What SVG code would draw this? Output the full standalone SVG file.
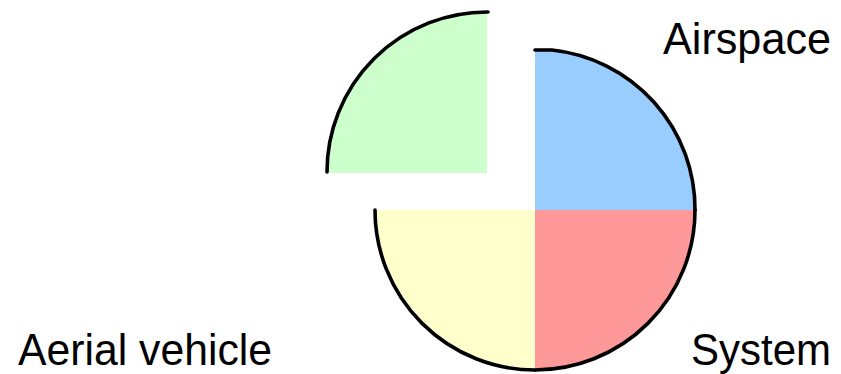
<svg xmlns="http://www.w3.org/2000/svg" width="841" height="374" viewBox="0 0 841 374">
<style>
.arc{fill:none;stroke:#000;stroke-width:3.6;stroke-linecap:round;stroke-linejoin:round}
.lbl{font-family:"Liberation Sans",Arial,sans-serif;font-size:45px;fill:#000}
</style>
<rect width="841" height="374" fill="#fff"/>
<g id="airspace">
<path d="M535,210 L535,50 A160,160 0 0 1 695,210 Z" fill="#99CCFF"/>
<path class="arc" d="M535,50 L552,50 A160,160 0 0 1 695,210"/>
</g>
<g id="system">
<path d="M535,210 L695,210 A160,160 0 0 1 535,370 Z" fill="#FF9999"/>
<path class="arc" d="M695,210 A160,160 0 0 1 535,370"/>
</g>
<g id="aerial-vehicle">
<path d="M535,210 L535,370 A160,160 0 0 1 375,210 Z" fill="#FFFFCC"/>
<path class="arc" d="M535,370 A160,160 0 0 1 375,210"/>
</g>
<g id="exploded">
<path d="M487,173 L327,173 A160,160 0 0 1 487,13 Z" fill="#CCFFCC"/>
<path class="arc" d="M327,172 A160,160 0 0 1 488,12"/>
</g>
<g id="labels">
<text class="lbl" x="663" y="54" textLength="168" lengthAdjust="spacingAndGlyphs">Airspace</text>
<text class="lbl" x="691" y="365" textLength="140" lengthAdjust="spacingAndGlyphs">System</text>
<text class="lbl" x="18" y="365" textLength="254" lengthAdjust="spacingAndGlyphs">Aerial vehicle</text>
</g>
</svg>
